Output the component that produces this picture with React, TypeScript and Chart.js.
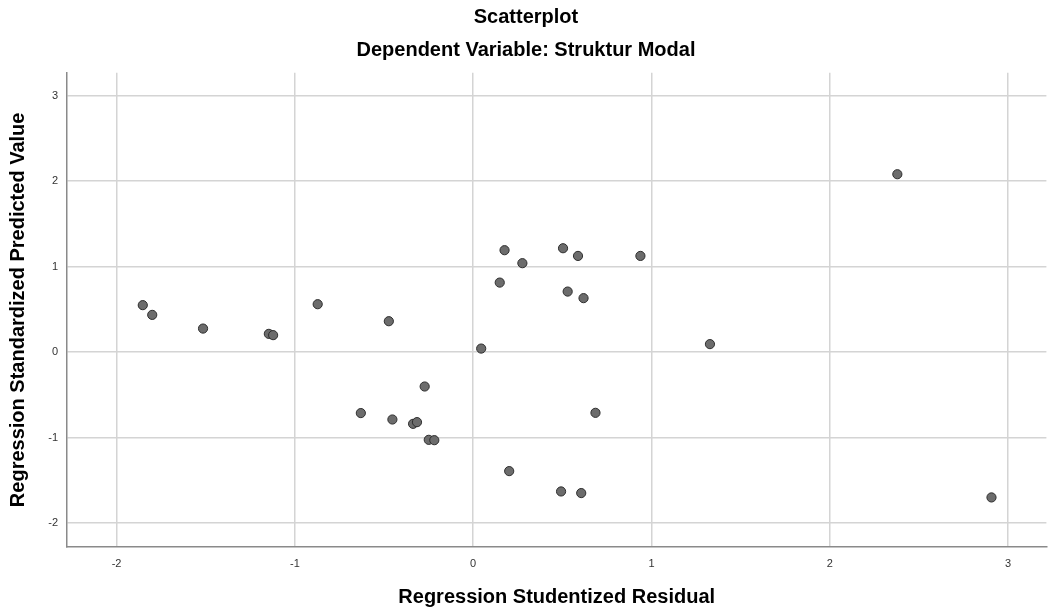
import { useEffect, useRef } from "react";
import { Chart, registerables } from "chart.js";

Chart.register(...registerables);

const residuals = [
  -1.853, -1.8, -1.515, -1.146, -1.122, -0.872, -0.473, 0.045, 0.149, -0.272,
  -0.63, -0.453, -0.337, -0.315, -0.249, -0.218, 0.176, 0.276, 0.504, 0.588,
  0.938, 0.53, 0.619, 1.328, 0.686, 0.202, 0.493, 0.606, 2.379, 2.907,
];
const predicted = [
  0.55, 0.436, 0.276, 0.214, 0.199, 0.561, 0.362, 0.042, 0.814, -0.402,
  -0.713, -0.788, -0.839, -0.819, -1.026, -1.03, 1.193, 1.041, 1.216, 1.126,
  1.126, 0.709, 0.632, 0.094, -0.71, -1.392, -1.63, -1.649, 2.082, -1.7,
];
const xTicks = [-2, -1, 0, 1, 2, 3];
const yTicks = [-2, -1, 0, 1, 2, 3];

const FONT = "'Liberation Sans', Arial, sans-serif";

export default function App() {
  const ref = useRef<HTMLCanvasElement | null>(null);
  useEffect(() => {
    if (!ref.current) return;
    const points = residuals.map((x, i) => ({ x, y: predicted[i] }));
    const chart = new Chart(ref.current, {
      type: "scatter",
      data: {
        datasets: [
          {
            data: points,
            backgroundColor: "#6c6c6c",
            borderColor: "#2e2e2e",
            borderWidth: 1,
            pointRadius: 4.6,
          },
        ],
      },
      options: {
        animation: false,
        responsive: false,
        layout: { padding: { left: 0, right: 0, top: 0, bottom: 0 } },
        plugins: {
          legend: { display: false },
          tooltip: { enabled: false },
          title: {
            display: true,
            text: "Scatterplot",
            color: "#000",
            font: { family: FONT, size: 20, weight: "bold", lineHeight: 1.2 },
            padding: { top: 5, bottom: 9 },
          },
          subtitle: {
            display: true,
            text: "Dependent Variable: Struktur Modal",
            color: "#000",
            font: { family: FONT, size: 20, weight: "bold", lineHeight: 1.2 },
            padding: { top: 0, bottom: 10.7 },
          },
        },
        scales: {
          x: {
            type: "linear",
            min: -2.278,
            max: 3.215,
            afterBuildTicks: (s: any) => {
              s.ticks = xTicks.map((v) => ({ value: v }));
            },
            afterFit: (s: any) => {
              s.height = 66;
            },
            ticks: {
              color: "#333",
              font: { family: FONT, size: 11 },
              padding: 10,
            },
            grid: { color: "#d4d4d4", lineWidth: 1.5, drawTicks: false },
            border: { display: true, color: "#8a8a8a", width: 1.5 },
            title: {
              display: true,
              text: "Regression Studentized Residual",
              color: "#000",
              font: { family: FONT, size: 20, weight: "bold", lineHeight: 1.2 },
              padding: { top: 0, bottom: 4 },
            },
          },
          y: {
            type: "linear",
            min: -2.28,
            max: 3.27,
            afterBuildTicks: (s: any) => {
              s.ticks = yTicks.map((v) => ({ value: v }));
            },
            afterFit: (s: any) => {
              s.width = 67;
            },
            ticks: {
              color: "#333",
              font: { family: FONT, size: 11 },
              padding: 9,
            },
            grid: { color: "#d4d4d4", lineWidth: 1.5, drawTicks: false },
            border: { display: true, color: "#8a8a8a", width: 1.5 },
            title: {
              display: true,
              text: "Regression Standardized Predicted Value",
              color: "#000",
              font: { family: FONT, size: 20, weight: "bold", lineHeight: 1.2 },
              padding: { top: 6, bottom: 0 },
            },
          },
        },
      },
    });
    return () => chart.destroy();
  }, []);
  return (
    <div style={{ position: "absolute", left: 0, top: 0, width: 1052, height: 613, background: "#fff" }}>
      <canvas ref={ref} width={1052} height={613} />
    </div>
  );
}
